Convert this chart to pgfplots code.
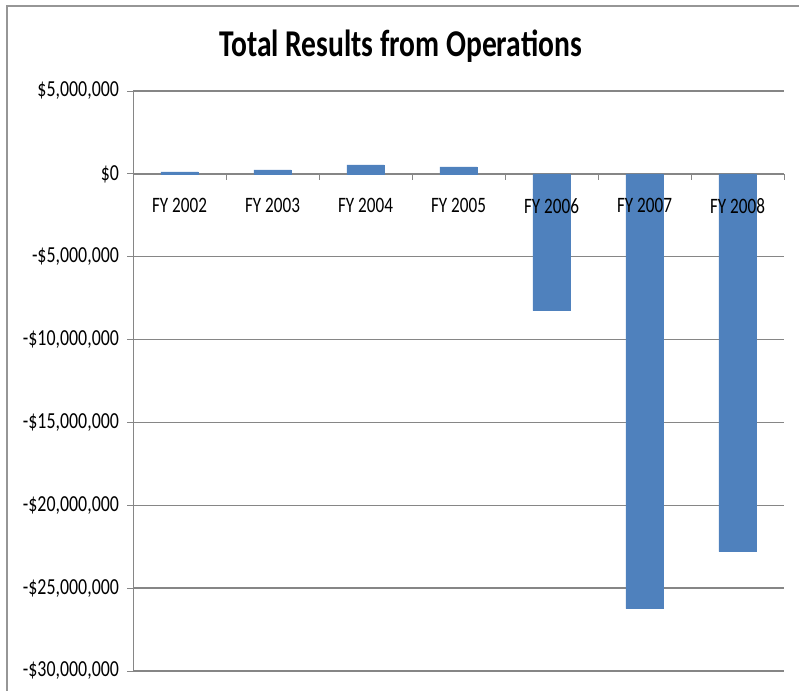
\documentclass[border=0pt]{standalone}
\usepackage{fontspec}
\setmainfont{Carlito}[FakeStretch=0.78]
\usepackage{pgfplots}
\pgfplotsset{compat=1.18}
\definecolor{barblue}{RGB}{79,129,189}
\definecolor{gridgray}{RGB}{134,134,134}
\definecolor{framegray}{RGB}{150,150,150}
\tikzset{catlab/.style={font=\fontsize{16.5}{18}\selectfont, anchor=center, yshift=-24pt}}
\begin{document}
\begin{tikzpicture}
  % page of 799 x 690 px, 1px = 0.75pt
  \useasboundingbox (0,0) rectangle (599.25pt,517.5pt);
  \draw[framegray, line width=1.5pt] (5.25pt,-2pt) -- (5.25pt,513pt) -- (602pt,513pt);
  \node[font=\fontsize{28.4}{30}\selectfont\bfseries] at (300.4pt,483pt) {Total Results from Operations};
  \begin{axis}[
      at={(99.75pt,14.25pt)}, anchor=south west,
      scale only axis,
      width=488.25pt, height=435pt,
      clip=false,
      ybar, bar width=0.4,
      xmin=-0.5, xmax=6.5,
      ymin=-30000000, ymax=5000000,
      scaled y ticks=false,
      axis x line*=middle,
      axis y line*=left,
      axis line style={gridgray, line width=0.75pt},
      tick align=outside,
      xtick={0,1,2,3,4,5,6},
      xticklabels={},
      major x tick style={draw=none},
      minor xtick={-0.5,0.5,1.5,2.5,3.5,4.5,5.5,6.5},
      minor tick length=4.5pt,
      major tick length=4.5pt,
      tick style={gridgray, line width=0.75pt},
      ytick={-30000000,-25000000,-20000000,-15000000,-10000000,-5000000,0,5000000},
      yticklabels={{-\$30,000,000},{-\$25,000,000},{-\$20,000,000},{-\$15,000,000},{-\$10,000,000},{-\$5,000,000},{\$0},{\$5,000,000}},
      ymajorgrids,
      grid style={gridgray, line width=1pt},
      tick label style={font=\fontsize{17.2}{18}\selectfont, text=black},
      yticklabel style={xshift=-2.5pt},
    ]
    \addplot[fill=barblue, draw=barblue] coordinates {
      (0,120000)
      (1,240000)
      (2,540000)
      (3,420000)
      (4,-8250000)
      (5,-26230000)
      (6,-22800000)
    };
    % category names sit next to the zero line, over the bars
    \node[catlab] at (axis cs:0,0) {FY 2002};
    \node[catlab] at (axis cs:1,0) {FY 2003};
    \node[catlab] at (axis cs:2,0) {FY 2004};
    \node[catlab] at (axis cs:3,0) {FY 2005};
    \node[catlab] at (axis cs:4,0) {FY 2006};
    \node[catlab] at (axis cs:5,0) {FY 2007};
    \node[catlab] at (axis cs:6,0) {FY 2008};
  \end{axis}
\end{tikzpicture}
\end{document}
